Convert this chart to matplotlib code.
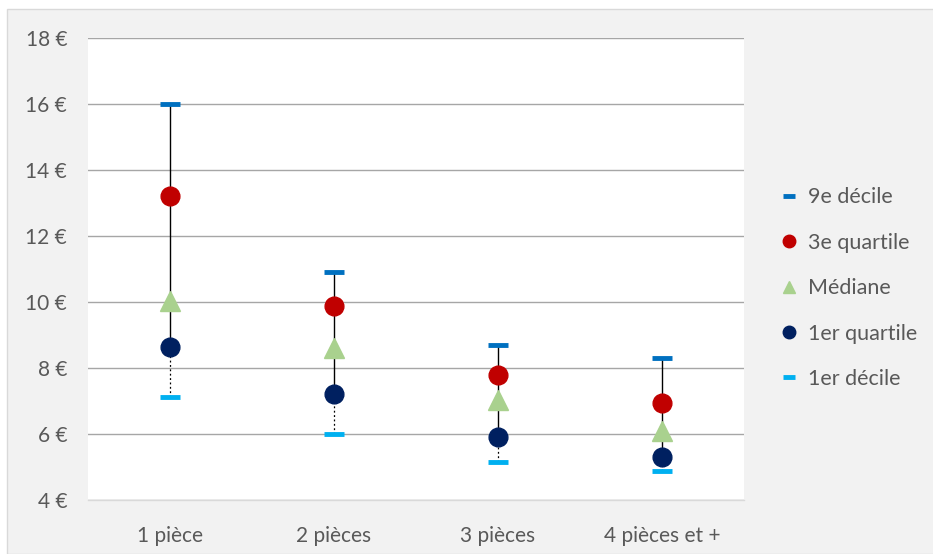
import matplotlib
matplotlib.use("Agg")
import matplotlib.pyplot as plt
from matplotlib.patches import Rectangle
import numpy as np

plt.rcParams['font.family'] = ['Lato', 'DejaVu Sans']

categories = ["1 pièce", "2 pièces", "3 pièces", "4 pièces et +"]
decile9 = [16.0, 10.9, 8.7, 8.3]
quartile3 = [13.22, 9.88, 7.79, 6.94]
mediane = [10.02, 8.6, 7.02, 6.08]
quartile1 = [8.64, 7.21, 5.91, 5.30]
decile1 = [7.12, 6.0, 5.15, 4.88]
yticks = [4, 6, 8, 10, 12, 14, 16, 18]

W, H = 933, 554
fig = plt.figure(figsize=(W / 100, H / 100), dpi=100)
fig.patch.set_facecolor("white")
fig.patches.append(Rectangle((7 / W, 0), 1, 1 - 9 / H, transform=fig.transFigure,
                             facecolor="#f2f2f2", edgecolor="#d9d9d9", lw=1.0, zorder=-10))

ax = fig.add_axes([88 / W, 1 - 500 / H, (744 - 88) / W, (500 - 38) / H])
ax.set_zorder(1)
ax.set_facecolor("white")
x = np.arange(len(categories))

# whiskers: solid from 9th decile to 1st quartile, dotted down to 1st decile
ax.vlines(x, quartile1, decile9, color="black", lw=1.0, zorder=2)
ax.vlines(x, decile1, quartile1, color="black", lw=0.9, linestyles=(0, (1.5, 2)), zorder=2)

ax.plot(x, decile9, ls="none", marker="_", ms=15, mew=3.5, color="#0070c0", label="9e décile", zorder=3)
ax.plot(x, quartile3, ls="none", marker="o", ms=13.5, color="#c00000", label="3e quartile", zorder=3)
ax.plot(x, mediane, ls="none", marker="^", ms=14, color="#a9d18e", label="Médiane", zorder=3)
ax.plot(x, quartile1, ls="none", marker="o", ms=13.5, color="#002060", label="1er quartile", zorder=3)
ax.plot(x, decile1, ls="none", marker="_", ms=15, mew=3.5, color="#00b0f0", label="1er décile", zorder=3)

ax.set_xlim(-0.5, len(categories) - 0.5)
ax.set_ylim(4, 18)
ax.set_yticks(yticks)
ax.set_yticklabels([f"{v} €" for v in yticks])
ax.set_xticks(x)
ax.set_xticklabels(categories)
ax.tick_params(axis="both", length=0, labelsize=15, colors="#595959")
ax.tick_params(axis="y", pad=15)
ax.tick_params(axis="x", pad=19)
ax.grid(axis="y", color="#a6a6a6", lw=1.0, zorder=0)
ax.set_axisbelow(True)
for s in ["top", "right", "left"]:
    ax.spines[s].set_visible(False)
ax.spines["bottom"].set_color("#d9d9d9")
ax.spines["bottom"].set_linewidth(1.0)

leg = fig.legend(loc="upper left", bbox_to_anchor=(762 / W, 1 - 168 / H), frameon=False,
                 fontsize=15.5, labelcolor="#595959", handlelength=0.7, handletextpad=0.55,
                 labelspacing=1.18)
for h in leg.legend_handles:
    h.set_markersize(9)
fig.savefig("out.png", dpi=100, facecolor=fig.get_facecolor())
